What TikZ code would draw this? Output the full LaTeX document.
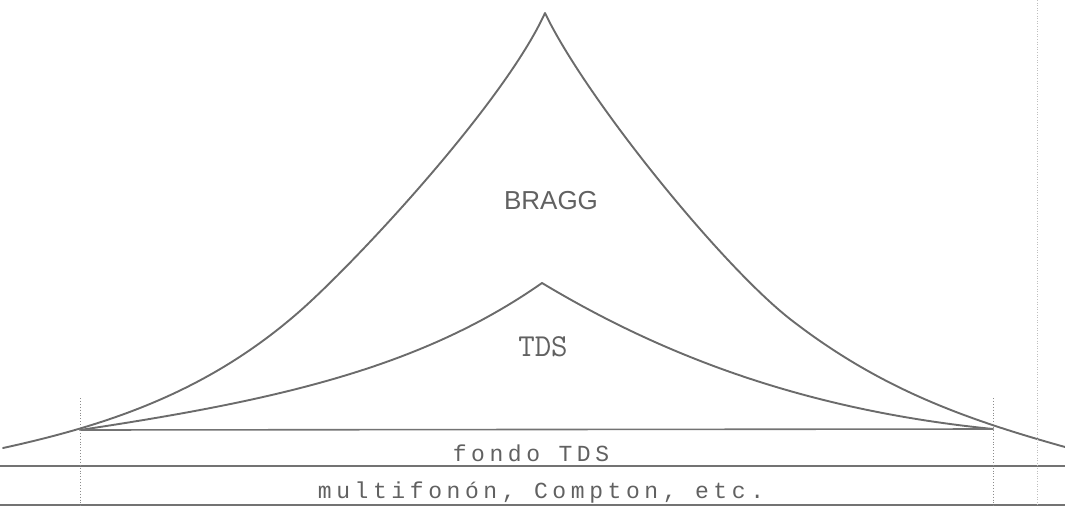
\documentclass[tikz,border=0pt]{standalone}
\usepackage{fontspec}
\newfontfamily\spacedmono{Liberation Mono}[LetterSpace=20]
\newfontfamily\plainsans{Liberation Sans}
\begin{document}
\begin{tikzpicture}[x=1pt,y=-1pt,
  ink/.style={draw=black!58,line width=1.9pt,line join=round,line cap=round},
  level/.style={draw=black!55,line width=1.6pt},
  guide/.style={draw=black!45,line width=0.9pt,dotted},
  faint/.style={draw=black!25,line width=0.6pt,dotted},
  lbl/.style={text=black!62,inner sep=0pt},
]
\useasboundingbox (0,0) rectangle (1065,506);
% key points
\coordinate (le) at (3,448);
\coordinate (L) at (80,430);
\coordinate (bm1) at (300,311);
\coordinate (bt) at (545,13);
\coordinate (bm2) at (790,319);
\coordinate (re) at (1065,447);
\coordinate (tt) at (542,283);
\coordinate (R) at (993,429);
% BRAGG peak
\draw[ink] (le) .. controls (113,424) and (210,390) .. (bm1)
                .. controls (360,258) and (505,101) .. (bt)
                .. controls (585,97) and (720,264) .. (bm2)
                .. controls (880,389) and (965,419) .. (re);
% TDS peak
\draw[ink] (L) .. controls (280,400) and (422,367) .. (tt)
               .. controls (652,349) and (793,409) .. (R);
% horizontal levels
\coordinate (m0) at (0,466);
\coordinate (m1) at (1065,466);
\coordinate (b0) at (0,505);
\coordinate (b1) at (1065,505);
\draw[level] (L) -- (R);
\draw[level] (m0) -- (m1);
\draw[level] (b0) -- (b1);
% vertical guides
\coordinate (gl0) at (80,398);
\coordinate (gl1) at (80,506);
\coordinate (gr0) at (993,398);
\coordinate (gr1) at (993,506);
\coordinate (ge0) at (1037,0);
\coordinate (ge1) at (1037,506);
\draw[guide] (gl0) -- (gl1);
\draw[guide] (gr0) -- (gr1);
\draw[faint] (ge0) -- (ge1);
% labels
\node[lbl,font=\plainsans\fontsize{26}{26}\selectfont] (bragg) at (551,201) {BRAGG};
\node[lbl,font=\ttfamily\fontsize{32}{32}\selectfont] (tds) at (543,347) {TDS};
\node[lbl,font=\spacedmono\fontsize{23}{23}\selectfont,anchor=base] (fondo) at (531,461) {fondo TDS};
\node[lbl,font=\spacedmono\fontsize{23}{23}\selectfont,anchor=base] (multi) at (541,498) {multifonón, Compton, etc.};
\end{tikzpicture}
\end{document}
